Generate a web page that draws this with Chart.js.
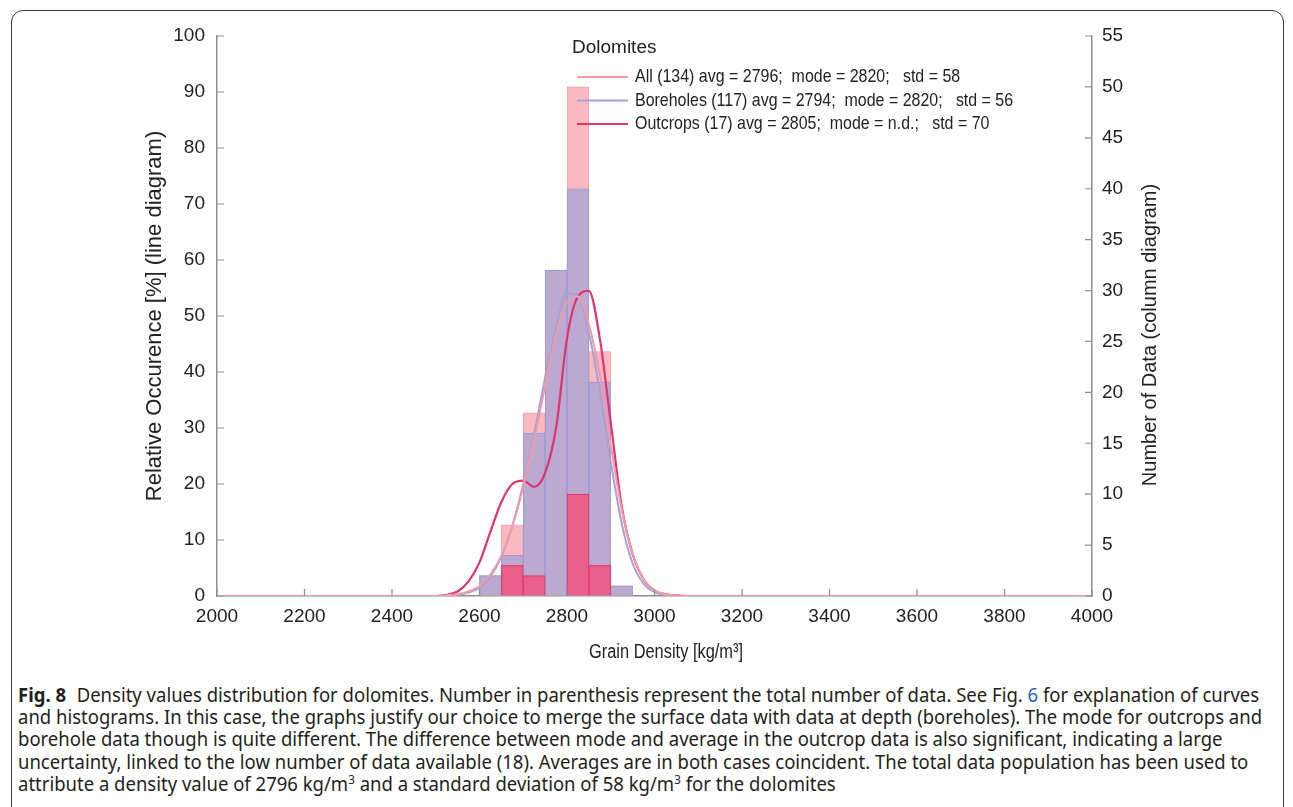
<!DOCTYPE html>
<html>
<head>
<meta charset="utf-8">
<script src="https://cdn.jsdelivr.net/npm/chart.js@4.4.1/dist/chart.umd.min.js"></script>
<style>
    body { margin: 0; background: #fff; width: 1293px; height: 807px; overflow: hidden; position: relative; }
    #frame { position: absolute; left: 11px; top: 10px; width: 1271px; height: 900px; border: 1px solid #3a3a3a; border-radius: 12px; }
    #chart { position: absolute; left: 0; top: 0; }
    #caption { position: absolute; left: 18px; top: 684px; font-family: "Noto Sans", sans-serif; font-size: 19px; line-height: 22.2px; color: #231f20; white-space: nowrap; transform-origin: 0 0; transform: scaleX(0.974); }
    #caption b { font-weight: bold; margin-right: 6px; }
    #caption a { color: #1f5fbf; text-decoration: none; }
    #caption sup { font-size: 12px; line-height: 0; }
</style>
</head>
<body>
<div id="frame"></div>
<canvas id="chart" width="1293" height="670"></canvas>
<div id="caption">
<b>Fig. 8</b> Density values distribution for dolomites. Number in parenthesis represent the total number of data. See Fig. <a>6</a> for explanation of curves<br>
and histograms. In this case, the graphs justify our choice to merge the surface data with data at depth (boreholes). The mode for outcrops and<br>
borehole data though is quite different. The difference between mode and average in the outcrop data is also significant, indicating a large<br>
uncertainty, linked to the low number of data available (18). Averages are in both cases coincident. The total data population has been used to<br>
attribute a density value of 2796 kg/m<sup>3</sup> and a standard deviation of 58 kg/m<sup>3</sup> for the dolomites
</div>
<script>
// histogram bins (50 kg/m3 wide), counts
const binStarts = [2600, 2650, 2700, 2750, 2800, 2850, 2900];
const binWidth = 50;
const allCounts = [2, 7, 18, 32, 50, 24, 1];
const boreholeCounts = [2, 4, 16, 32, 40, 21, 1];
const outcropCounts = [0, 3, 2, 0, 10, 3, 0];

// relative occurence curves [%]
const curveX = [2000, 2500, 2525, 2550, 2575, 2600, 2625, 2650, 2675, 2700, 2725, 2750, 2775, 2800, 2825, 2850, 2875, 2900, 2925, 2950, 2975, 3000, 3025, 3050, 3075, 3100, 4000];
const allCurve = [0, 0, 0.1, 0.3, 0.8, 1.8, 3.8, 7.2, 12.5, 19.5, 28, 37.5, 46.5, 52.5, 53.5, 48.5, 39.5, 27, 15.5, 7.5, 3, 1, 0.3, 0.1, 0, 0, 0];
const boreholeCurve = [0, 0, 0.1, 0.2, 0.6, 1.5, 3.5, 7, 12.5, 20, 29, 39, 48, 54, 53.5, 47, 36.5, 24, 13, 5.8, 2.2, 0.7, 0.2, 0, 0, 0, 0];
const outcropCurve = [0, 0, 0.2, 0.8, 2.6, 6, 11.5, 16.8, 20, 20.6, 19.5, 22, 30, 46, 53.5, 54.5, 46, 31, 16, 7.5, 3, 1, 0.3, 0.1, 0, 0, 0];

const xTicks = [2000, 2200, 2400, 2600, 2800, 3000, 3200, 3400, 3600, 3800, 4000];

const legendTitle = 'Dolomites';
const labels = [
    'All (134) avg = 2796;  mode = 2820;   std = 58',
    'Boreholes (117) avg = 2794;  mode = 2820;   std = 56',
    'Outcrops (17) avg = 2805;  mode = n.d.;   std = 70'
];
const rightTitle = 'Number of Data (column diagram)';
const xTitle = 'Grain Density [kg/m³]';

const colAll = '#f29aa6', colBore = '#a5a2d8', colOut = '#e0336f';

const toBars = counts => counts.map((c, i) => ({ x: binStarts[i] + binWidth / 2, y: c }));
const toLine = vals => vals.map((v, i) => ({ x: curveX[i], y: v }));

const axisColor = '#8e8e8e';
const fam = '"Liberation Sans", Arial, sans-serif';
const tickFont = { family: fam, size: 19 };

// ticks point into the plot like in the original figure
const innerTicks = {
    id: 'innerTicks',
    afterDraw(chart) {
        const { ctx, chartArea: a } = chart;
        ctx.save();
        ctx.strokeStyle = axisColor;
        ctx.lineWidth = 1.2;
        ctx.beginPath();
        chart.scales.y.ticks.forEach(t => {
            const p = chart.scales.y.getPixelForValue(t.value);
            ctx.moveTo(a.left, p); ctx.lineTo(a.left + 7, p);
        });
        chart.scales.y1.ticks.forEach(t => {
            const p = chart.scales.y1.getPixelForValue(t.value);
            ctx.moveTo(a.right - 7, p); ctx.lineTo(a.right, p);
        });
        chart.scales.x.ticks.forEach(t => {
            const p = chart.scales.x.getPixelForValue(t.value);
            ctx.moveTo(p, a.bottom); ctx.lineTo(p, a.bottom - 7);
        });
        ctx.stroke();

        ctx.fillStyle = '#222';
        ctx.textAlign = 'center';
        ctx.textBaseline = 'middle';

        // x title, a bit narrow like the source
        ctx.save();
        ctx.translate(666, 652);
        ctx.scale(0.82, 1);
        ctx.font = '20px ' + fam;
        ctx.fillText(xTitle, 0, 0);
        ctx.restore();

        // right axis title reads bottom to top
        ctx.translate(1150, 335);
        ctx.rotate(-Math.PI / 2);
        ctx.font = '20px ' + fam;
        ctx.fillText(rightTitle, 0, 0);
        ctx.restore();
    }
};

const insideLegend = {
    id: 'insideLegend',
    afterDraw(chart) {
        const { ctx } = chart;
        const cols = [colAll, colBore, colOut];
        ctx.save();
        ctx.fillStyle = '#222';
        ctx.textBaseline = 'middle';
        ctx.font = '19px ' + fam;
        ctx.fillText(legendTitle, 572, 48);
        labels.forEach((txt, i) => {
            const y = 77 + i * 23.5;
            ctx.strokeStyle = cols[i];
            ctx.lineWidth = 2;
            ctx.beginPath();
            ctx.moveTo(577, y); ctx.lineTo(628, y);
            ctx.stroke();
            ctx.save();
            ctx.translate(635, y);
            ctx.scale(0.84, 1);
            ctx.font = '19px ' + fam;
            ctx.fillText(txt, 0, 0);
            ctx.restore();
        });
        ctx.restore();
    }
};

new Chart(document.getElementById('chart'), {
    data: {
        datasets: [
            { type: 'line', label: labels[0], data: toLine(allCurve), yAxisID: 'y', borderColor: colAll, borderWidth: 2, pointRadius: 0, cubicInterpolationMode: 'monotone', order: 0 },
            { type: 'line', label: labels[1], data: toLine(boreholeCurve), yAxisID: 'y', borderColor: colBore, borderWidth: 2, pointRadius: 0, cubicInterpolationMode: 'monotone', order: 0 },
            { type: 'line', label: labels[2], data: toLine(outcropCurve), yAxisID: 'y', borderColor: colOut, borderWidth: 2.2, pointRadius: 0, cubicInterpolationMode: 'monotone', order: 0 },
            { type: 'bar', data: toBars(allCounts), yAxisID: 'y1', backgroundColor: '#f9b9c0', borderColor: '#f3a4ae', borderWidth: 1, order: 3 },
            { type: 'bar', data: toBars(boreholeCounts), yAxisID: 'y1', backgroundColor: '#bba9cf', borderColor: '#9f9bd3', borderWidth: 1.2, order: 2 },
            { type: 'bar', data: toBars(outcropCounts), yAxisID: 'y1', backgroundColor: '#e9618a', borderColor: '#e43c74', borderWidth: 1.2, order: 1 }
        ]
    },
    options: {
        responsive: false,
        animation: false,
        datasets: { bar: { grouped: false, barPercentage: 1, categoryPercentage: 1 } },
        layout: { padding: { top: 36, left: 0, right: 0, bottom: 0 } },
        plugins: { legend: { display: false }, tooltip: { enabled: false } },
        scales: {
            x: {
                type: 'linear', min: 2000, max: 4000, offset: false,
                afterFit: s => { s.height = 74; },
                afterBuildTicks: s => { s.ticks = xTicks.map(v => ({ value: v })); },
                grid: { display: true, drawOnChartArea: false, drawTicks: false, offset: false },
                border: { color: axisColor, width: 1.5 },
                ticks: { font: tickFont, color: '#222', padding: 9, maxRotation: 0, callback: v => String(v) },
                title: { display: false }
            },
            y: {
                position: 'left', min: 0, max: 100,
                afterFit: s => { s.width = 217; },
                grid: { display: true, drawOnChartArea: false, drawTicks: false },
                border: { color: axisColor, width: 1.5 },
                ticks: { stepSize: 10, font: tickFont, color: '#222', padding: 12 },
                title: { display: true, text: 'Relative Occurence [%] (line diagram)', color: '#222', font: { family: fam, size: 22 }, padding: { top: 142, bottom: 0 } }
            },
            y1: {
                position: 'right', min: 0, max: 55,
                afterFit: s => { s.width = 201; },
                grid: { display: true, drawOnChartArea: false, drawTicks: false },
                border: { color: axisColor, width: 1.5 },
                ticks: { stepSize: 5, font: tickFont, color: '#222', padding: 10 },
                title: { display: false }
            }
        }
    },
    plugins: [innerTicks, insideLegend]
});
</script>
</body>
</html>
